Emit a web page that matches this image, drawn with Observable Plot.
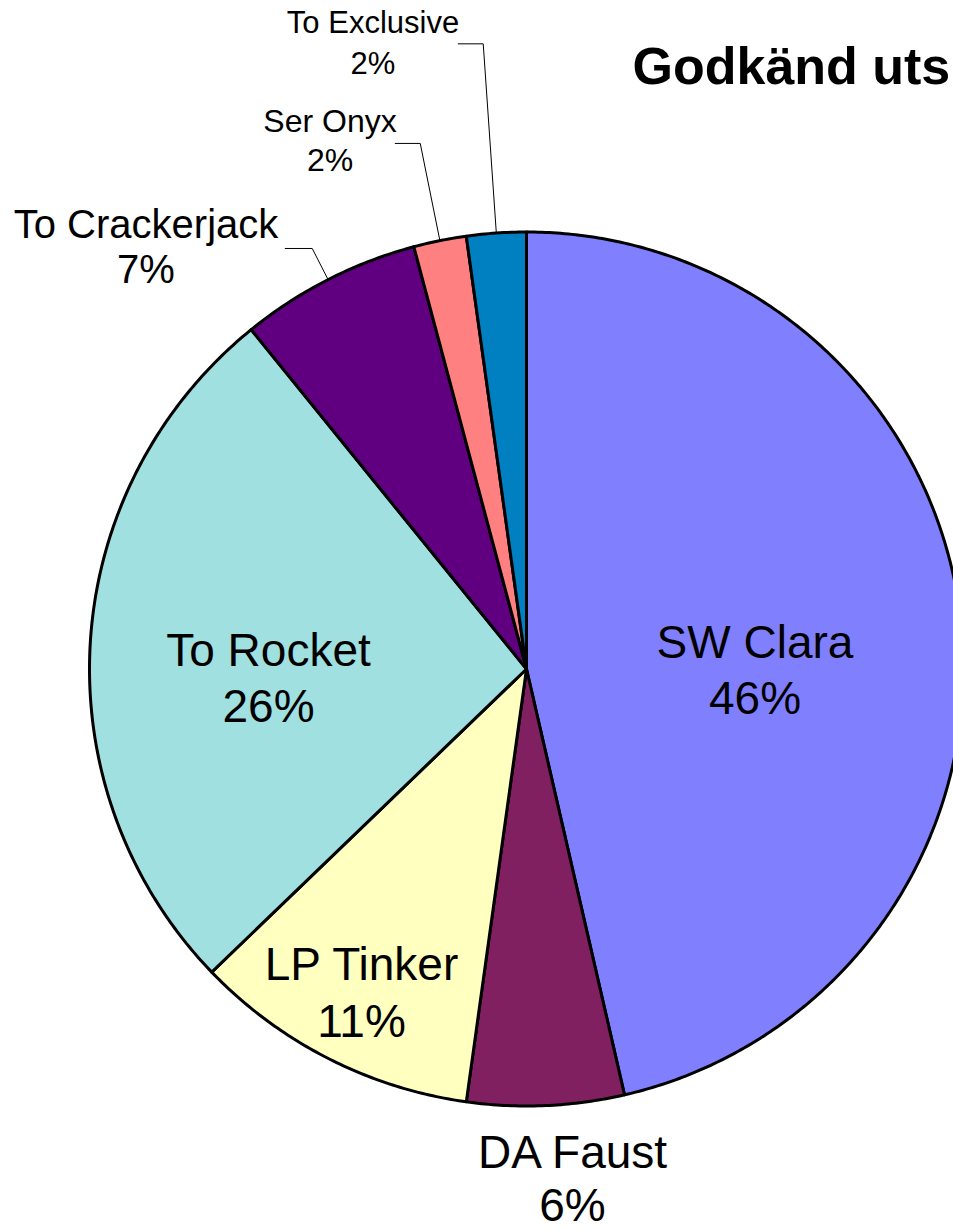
<!DOCTYPE html>
<html><head><meta charset="utf-8">
<script src="https://cdn.jsdelivr.net/npm/d3@7"></script>
<script src="https://cdn.jsdelivr.net/npm/@observablehq/plot@0.6"></script>
<style>html,body{margin:0;padding:0;overflow:hidden;background:#fff}</style>
</head><body><div id="chart"></div>
<script>
// ---- data ----
const names = ["SW Clara", "DA Faust", "LP Tinker", "To Rocket", "To Crackerjack", "Ser Onyx", "To Exclusive"];
const shares = [46.4, 5.8, 10.6, 26.35, 6.7, 1.95, 2.2];
const colors = ["#8080FF", "#802060", "#FFFFC0", "#A0E0E0", "#600080", "#FF8080", "#0080C0"];
const title = "Godkänd uts";

// ---- layout (pixels) ----
const W = 953, H = 1229, CX = 526, CY = 668.5, R = 437;
// [dx from centre, dy from centre to first baseline, font size, line gap]
const labelLayout = [
  [228.5, -11.5, 46, 56],
  [46, 498.5, 46, 53],
  [-165, 310.5, 46, 57],
  [-258, -3.5, 46, 56],
  [-380.5, -431.5, 40, 45],
  [-196.5, -537.5, 32, 39],
  [-153.5, -636.5, 31, 41]
];
// leader lines: slice index -> [elbow radius (in radii), horizontal run px]
const leaderLayout = {4: [1.08, 27], 5: [1.227, 25], 6: [1.434, 25]};

const total = d3.sum(shares);
const pt = (r, deg) => ({x: r * Math.sin(deg * Math.PI / 180), y: r * Math.cos(deg * Math.PI / 180)});

let acc = 0;
const slices = shares.map((v, i) => {
  const a0 = acc / total * 360; acc += v; const a1 = acc / total * 360;
  const n = Math.max(2, Math.ceil((a1 - a0) / 0.5));
  const pts = [{x: 0, y: 0}];
  for (let k = 0; k <= n; ++k) pts.push(pt(1, a0 + (a1 - a0) * k / n));
  return {i, name: names[i], pct: Math.round(v / total * 100), mid: (a0 + a1) / 2, pts};
});

const textRows = [];
slices.forEach((s, i) => {
  const [dx, dy, size, gap] = labelLayout[i];
  textRows.push({x: dx / R, y: -dy / R, text: s.name, size});
  textRows.push({x: dx / R, y: -(dy + gap) / R, text: s.pct + "%", size});
});

const leaders = [];
for (const [k, [er, run]] of Object.entries(leaderLayout)) {
  const s = slices[+k];
  const p0 = pt(1, s.mid), p1 = pt(er, s.mid);
  leaders.push([p0, p1, {x: p1.x - run / R, y: p1.y}]);
}

const marks = [];
slices.forEach(s => {
  marks.push(Plot.line(s.pts, {x: "x", y: "y", curve: "linear-closed", fill: colors[s.i], stroke: "#000", strokeWidth: 3, strokeLinejoin: "round"}));
});
leaders.forEach(l => marks.push(Plot.line(l, {x: "x", y: "y", stroke: "#000", strokeWidth: 1})));
marks.push(Plot.text(textRows, {x: "x", y: "y", text: "text", fontSize: "size", textAnchor: "middle", lineAnchor: "bottom", fill: "#000"}));
marks.push(Plot.text([title], {frameAnchor: "top-left", dx: 632, dy: 83, textAnchor: "start", lineAnchor: "bottom", fontSize: 52, fontWeight: "bold", fill: "#000"}));

const chart = Plot.plot({
  width: W, height: H, margin: 0,
  style: {fontFamily: "'Liberation Sans', Arial, sans-serif", background: "#fff"},
  x: {domain: [-CX / R, (W - CX) / R], axis: null},
  y: {domain: [-(H - CY) / R, CY / R], axis: null},
  marks
});
document.getElementById("chart").append(chart);
</script>
</body></html>
